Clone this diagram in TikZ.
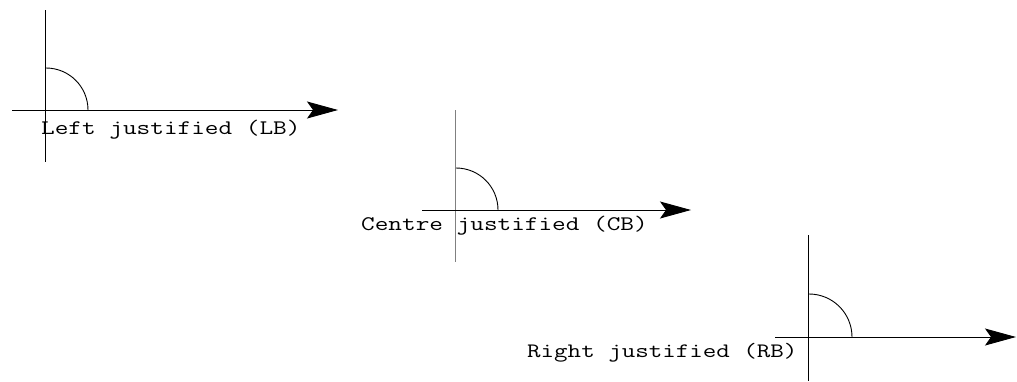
\documentclass[tikz,border=0pt]{standalone}
\usepackage{fontspec}
\newfontfamily\courlike[FakeStretch=1.28]{Latin Modern Mono}
\usetikzlibrary{arrows.meta}
\begin{document}
\begin{tikzpicture}[x=1pt,y=-1pt,
  vaxis/.style={line width=0.9pt},
  arrowaxis/.style={line width=0.9pt,-{Stealth[length=31pt,width=17pt,inset=6pt]}},
  anglearc/.style={line width=0.9pt},
  lbl/.style={anchor=base west,inner sep=0pt,font=\courlike\fontsize{20.7}{24}\selectfont}]
\useasboundingbox (0,0) rectangle (1017,381);
% figure 1
\coordinate (o1) at (45,110);
\coordinate (t1) at (45,10);
\coordinate (b1) at (45,162);
\coordinate (l1) at (12,110);
\coordinate (r1) at (338,110);
\draw[vaxis] (t1) -- (b1);
\draw[arrowaxis] (l1) -- (r1);
\draw[anglearc] ([xshift=43pt]o1) arc[start angle=0,end angle=90,radius=42pt];
\node[lbl] (lb) at (41,134) {Left justified (LB)};
% figure 2
\coordinate (o2) at (455,210);
\coordinate (t2) at (455,110);
\coordinate (b2) at (455,262);
\coordinate (l2) at (422,210);
\coordinate (r2) at (691,210);
\draw[vaxis,gray] (t2) -- (b2);
\draw[arrowaxis] (l2) -- (r2);
\draw[anglearc] ([xshift=43pt]o2) arc[start angle=0,end angle=90,radius=42pt];
\node[lbl] (cb) at (361,230) {Centre justified (CB)};
% figure 3
\coordinate (o3) at (808,337);
\coordinate (t3) at (808,235);
\coordinate (b3) at (808,381);
\coordinate (l3) at (775,337);
\coordinate (r3) at (1016,337);
\draw[vaxis] (t3) -- (b3);
\draw[arrowaxis] (l3) -- (r3);
\draw[anglearc] ([xshift=44pt]o3) arc[start angle=0,end angle=90,radius=43pt];
\node[lbl,font=\courlike\fontsize{20.5}{24}\selectfont] (rb) at (527,357) {Right justified (RB)};
\end{tikzpicture}
\end{document}
